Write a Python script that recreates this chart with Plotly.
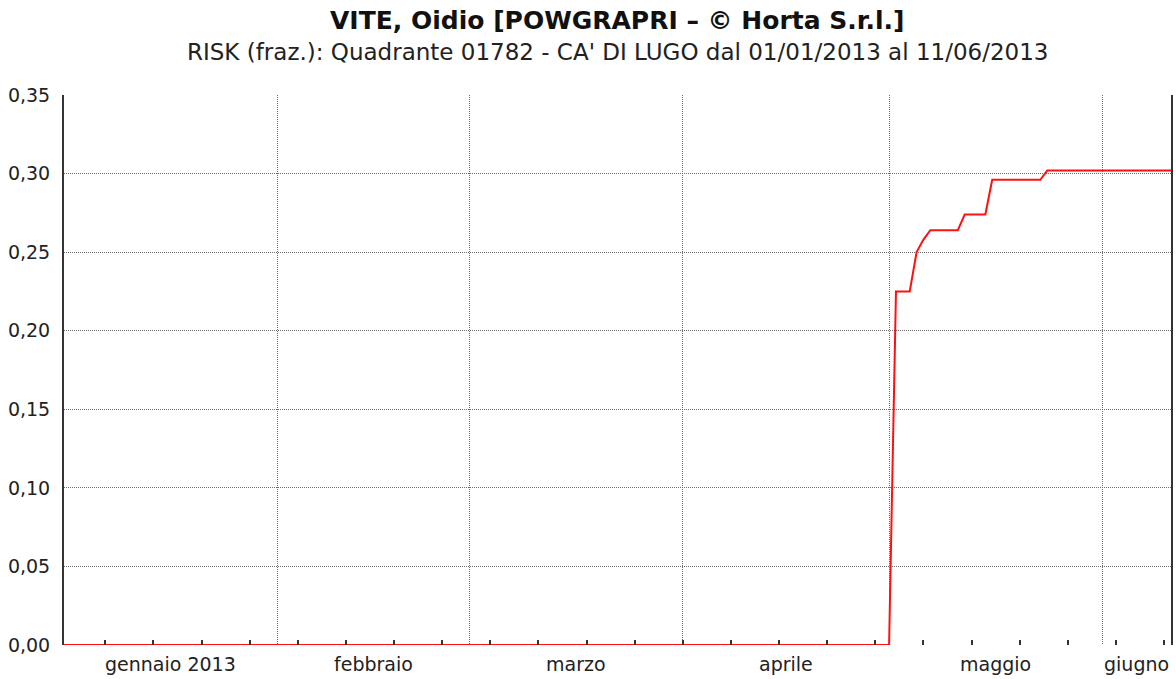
import plotly.graph_objects as go
import pandas as pd

# --- data ---
dates = ["2013-01-01", "2013-05-01", "2013-05-02", "2013-05-04", "2013-05-05",
         "2013-05-06", "2013-05-07", "2013-05-11", "2013-05-12", "2013-05-15",
         "2013-05-16", "2013-05-23", "2013-05-24", "2013-06-11"]
risk = [0.0, 0.0, 0.225, 0.225, 0.250, 0.258, 0.264, 0.264, 0.274, 0.274,
        0.296, 0.296, 0.302, 0.302]

month_starts = ["2013-02-01", "2013-03-01", "2013-04-01", "2013-05-01", "2013-06-01"]
month_label_pos = ["2013-01-16 12:00", "2013-02-15", "2013-03-16 12:00",
                   "2013-04-16", "2013-05-16 12:00", "2013-06-06"]
month_labels = ["gennaio 2013", "febbraio", "marzo", "aprile", "maggio", "giugno"]
y_ticks = [0.0, 0.05, 0.10, 0.15, 0.20, 0.25, 0.30, 0.35]

x_start, x_end = "2013-01-01", "2013-06-11"
week_ticks = list(pd.date_range("2013-01-07", x_end, freq="7D").strftime("%Y-%m-%d"))

title = "VITE, Oidio [POWGRAPRI – © Horta S.r.l.]"
subtitle = "RISK (fraz.): Quadrante 01782 - CA' DI LUGO dal 01/01/2013 al 11/06/2013"

FONT = "DejaVu Sans"
grid_col = "#6e6e6e"
axis_col = "#333333"
grid_dash = "1px,1px"

fig = go.Figure()
fig.add_trace(go.Scatter(x=dates, y=risk, mode="lines",
                         line=dict(color="#ff1010", width=2),
                         showlegend=False, hoverinfo="x+y"))

fig.update_layout(
    width=1176, height=679,
    margin=dict(l=64, r=3, t=95, b=34),
    paper_bgcolor="white", plot_bgcolor="white",
    separators=",.",
    font=dict(family=FONT, size=16, color="#222222"),
    xaxis=dict(
        type="date", range=[x_start, x_end],
        tickmode="array", tickvals=week_ticks, showticklabels=False,
        ticks="inside", ticklen=5, tickwidth=2, tickcolor=axis_col,
        showgrid=False, zeroline=False, showline=False,
        minor=dict(tickmode="array", tickvals=month_starts, ticks="outside",
                   ticklen=0, showgrid=True, gridcolor=grid_col,
                   griddash=grid_dash, gridwidth=1),
    ),
    yaxis=dict(
        range=[0, 0.35], tickmode="array", tickvals=y_ticks, tickformat=".2f",
        ticks="", showgrid=True, gridcolor=grid_col, griddash=grid_dash, gridwidth=1,
        zeroline=False, showline=True, mirror=True, linecolor=axis_col,
        linewidth=2, tickfont=dict(family=FONT, size=19, color="#222222"),
        ticklabelstandoff=8,
    ),
)

for pos, lab in zip(month_label_pos, month_labels):
    fig.add_annotation(x=pos, xref="x", y=-19 / 550, yref="paper",
                       text=lab, showarrow=False, yanchor="middle",
                       xanchor="center",
                       font=dict(family=FONT, size=19, color="#222222"))

fig.add_annotation(x=0.5, xref="paper", y=1 + 75 / 550, yref="paper",
                   text="<b>" + title + "</b>", showarrow=False,
                   yanchor="middle", xanchor="center",
                   font=dict(family=FONT, size=25, color="#111111"))
fig.add_annotation(x=0.5, xref="paper", y=1 + 43 / 550, yref="paper",
                   text=subtitle, showarrow=False,
                   yanchor="middle", xanchor="center",
                   font=dict(family=FONT, size=23, color="#222222"))

fig.write_html("out.html", config={"displayModeBar": False},
               post_script="document.body.style.margin='0px';")
